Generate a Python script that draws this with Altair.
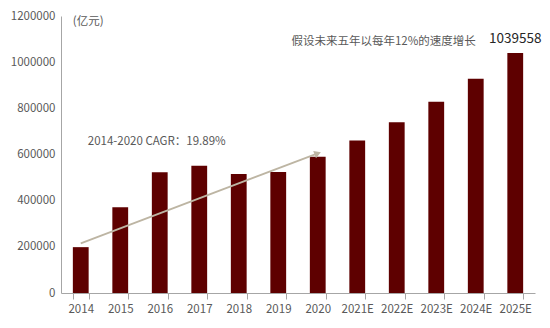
import altair as alt
import pandas as pd
import numpy as np

years = ["2014", "2015", "2016", "2017", "2018", "2019", "2020",
         "2021E", "2022E", "2023E", "2024E", "2025E"]
values = [198640, 372000, 523000, 551000, 515000, 524000, 589878,
          660663, 739942, 828735, 928183, 1039558]

trend_years = ["2014", "2020"]
trend_values = [215000, 605000]

unit_label = "(亿元)"
cagr_label = "2014-2020 CAGR：19.89%"
assume_label = "假设未来五年以每年12%的速度增长"
last_label = "1039558"

W, H = 474, 277
YMAX = 1200000

df = pd.DataFrame({"year": years, "value": values})
trend = pd.DataFrame({"year": trend_years, "value": trend_values})

xscale = alt.Scale(domain=years, paddingInner=0.6, paddingOuter=0.3)
yscale = alt.Scale(domain=[0, YMAX], nice=False)

font = "Noto Sans CJK SC"
grey = "#595959"

bars = alt.Chart(df).mark_bar(color="#5e0000").encode(
    x=alt.X("year:N", scale=xscale, sort=years, title=None,
            axis=alt.Axis(labelAngle=0, tickBand="extent", domainColor="#a6a6a6",
                          tickColor="#a6a6a6", tickSize=6, labelPadding=4,
                          labelFont=font, labelFontSize=11.5, labelColor=grey)),
    y=alt.Y("value:Q", scale=yscale, title=None,
            axis=alt.Axis(values=[0, 200000, 400000, 600000, 800000, 1000000, 1200000],
                          format="d", grid=False, ticks=False, domainColor="#a6a6a6",
                          labelPadding=6, labelFont=font, labelFontSize=11.5,
                          labelColor=grey)),
)

line = alt.Chart(trend).mark_line(color="#bdb5a3", strokeWidth=1.8).encode(
    x=alt.X("year:N", scale=xscale, sort=years),
    y=alt.Y("value:Q", scale=yscale),
)

step = W / 12.0
dx_px = (years.index(trend_years[1]) - years.index(trend_years[0])) * step
dy_px = (trend_values[1] - trend_values[0]) / YMAX * H
ang = 360 - np.degrees(np.arctan2(dy_px, dx_px))

head = alt.Chart(trend.iloc[[1]]).mark_point(
    shape="triangle-right", filled=True, color="#bdb5a3", size=60, angle=float(ang), opacity=1
).encode(
    x=alt.X("year:N", scale=xscale, sort=years),
    y=alt.Y("value:Q", scale=yscale),
)

ann = pd.DataFrame({
    "year": ["2014", "2014", "2024E", "2025E"],
    "value": [1174000, 654000, 1087000, 1039558],
    "label": [unit_label, cagr_label, assume_label, last_label],
})

t_unit = alt.Chart(ann.iloc[[0]]).mark_text(
    align="left", baseline="middle", font=font, fontSize=11.5, color=grey, dx=0
).encode(
    x=alt.X("year:N", scale=xscale, sort=years, bandPosition=0),
    y=alt.Y("value:Q", scale=yscale), text="label:N")

t_cagr = alt.Chart(ann.iloc[[1]]).mark_text(
    align="left", baseline="middle", font=font, fontSize=11.5, color=grey, dx=7
).encode(
    x=alt.X("year:N", scale=xscale, sort=years),
    y=alt.Y("value:Q", scale=yscale), text="label:N")

t_assume = alt.Chart(ann.iloc[[2]]).mark_text(
    align="right", baseline="middle", font=font, fontSize=11.5, color=grey, dx=0
).encode(
    x=alt.X("year:N", scale=xscale, sort=years),
    y=alt.Y("value:Q", scale=yscale), text="label:N")

t_last = alt.Chart(ann.iloc[[3]]).mark_text(
    align="center", baseline="middle", font=font, fontSize=13.5, color="#262626", dy=-14
).encode(
    x=alt.X("year:N", scale=xscale, sort=years),
    y=alt.Y("value:Q", scale=yscale), text="label:N")

chart = alt.layer(bars, line, head, t_unit, t_cagr, t_assume, t_last).properties(
    width=W, height=H,
    autosize=alt.AutoSizeParams(type="none"),
    padding={"left": 61, "top": 16, "right": 15, "bottom": 35},
    background="white",
).configure_view(stroke=None)

chart.save("out.html", embed_options={"renderer": "svg", "actions": False})
